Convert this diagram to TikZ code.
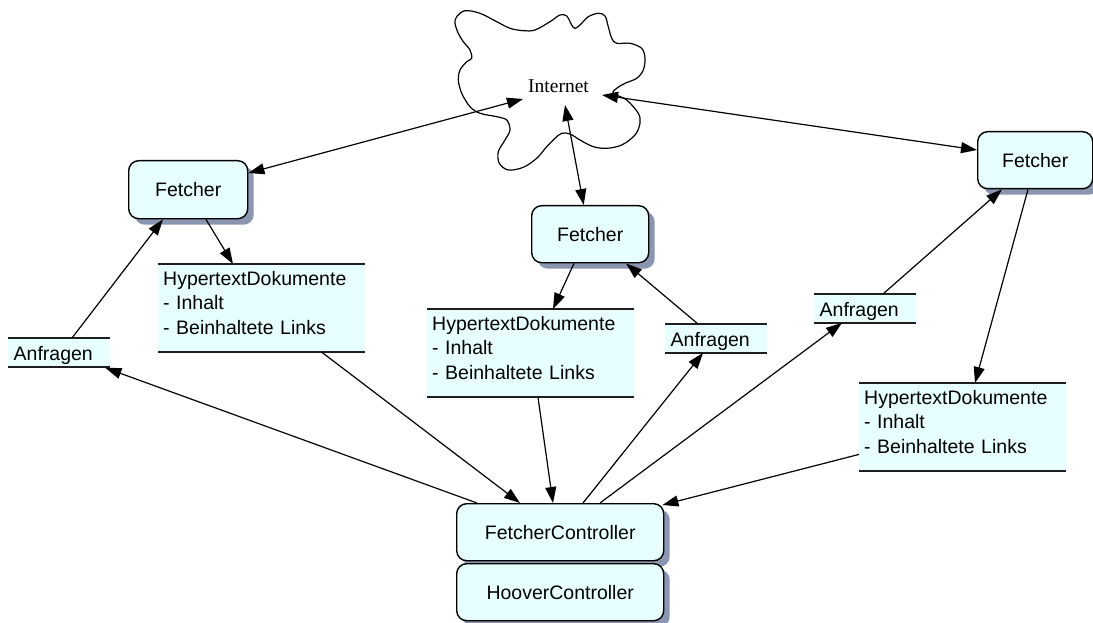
\documentclass[tikz,border=0pt]{standalone}
\usepackage{fontspec}
\setmainfont{Liberation Sans}
\newfontfamily\netfont{Liberation Serif}
\usetikzlibrary{arrows.meta,shadows}
\definecolor{boxfill}{RGB}{232,255,255}
\definecolor{shadowblue}{RGB}{138,150,176}
\definecolor{barline}{RGB}{30,30,30}

\begin{document}
\begin{tikzpicture}[x=1pt,y=-1pt,
  every node/.style={font=\fontsize{19.5}{24.5}\selectfont},
  rbox/.style={draw=black, line width=1.4pt, fill=boxfill, rounded corners=10pt,
    anchor=north west, inner sep=0pt,
    drop shadow={shadow xshift=6pt, shadow yshift=-6pt, fill=shadowblue, opacity=1}},
  docbox/.style={fill=boxfill, anchor=north west, inner xsep=5pt, inner ysep=0pt,
    text width=197pt, align=left, text height=21pt, text depth=67pt},
  reqbox/.style={fill=boxfill, anchor=north west, inner xsep=5.5pt, inner ysep=0pt,
    text width=91pt, align=left, text height=22pt, text depth=6.5pt},
  bar/.style={draw=barline, line width=2pt},
  conn/.style={draw=black, line width=1.2pt, -{Triangle[length=16pt,width=11pt]}},
  biconn/.style={draw=black, line width=1.2pt,
    {Triangle[length=16pt,width=11pt]}-{Triangle[length=16pt,width=11pt]}}]

% page area
\useasboundingbox (0,0) rectangle (1093,623);
\fill[white] (0,0) rectangle (1093,623);

% the Internet cloud
\draw[line width=1.2pt, fill=white] plot[smooth cycle, tension=0.55] coordinates {
  (456.7,16.7) (465,10.7) (480,13.3) (496.7,21.7) (510,28.3) (523.3,30.7) (535,30)
  (550,21.7) (560,15) (566.7,16) (571.7,25) (575,28.3) (580,25) (588.3,16.7)
  (598.3,13.3) (605,16) (608.3,26.7) (611.7,38.3) (616.7,43.3) (630,43.3)
  (641.7,48.3) (645,58.3) (643.3,70) (636.7,78.3) (625,83.3) (616.7,88.3)
  (613.3,93.3) (626.7,100) (638.3,113.3) (640,123.3) (635,135) (621.7,145)
  (606.7,148.3) (593.3,146.7) (580,140) (570,134) (561.7,133.3) (555,138.3)
  (546.7,146.7) (536.7,158.3) (523.3,167.3) (508.3,170) (499.3,163.3)
  (498.3,151.7) (505,140) (510,130) (506.7,120) (496.7,116.7) (480,113.3)
  (470,106.7) (461.7,93.3) (458.3,80) (460,70) (466.7,61.7) (471.7,58.3)
  (470,50) (463.3,41.7) (458.3,33.3) (455,23.3)};
\node[inner sep=0pt, anchor=base, font=\netfont\fontsize{19.5}{24.5}\selectfont] (net) at (558.5,93) {Internet};

% fetchers and controllers
\node[rbox, minimum width=119pt, minimum height=58pt] (fL) at (128,160) {Fetcher};
\node[rbox, minimum width=117pt, minimum height=57pt] (fM) at (531,205) {Fetcher};
\node[rbox, minimum width=115pt, minimum height=57pt] (fR) at (977,131) {Fetcher};
\node[rbox, minimum width=207pt, minimum height=57pt] (fc) at (456,503) {FetcherController};
\node[rbox, minimum width=207pt, minimum height=57pt] (hc) at (456,563) {HooverController};

% hypertext documents
\node[docbox] (hdL) at (158,264) {HypertextDokumente\\- Inhalt\\- Beinhaltete Links};
\node[docbox] (hdM) at (427,309) {HypertextDokumente\\- Inhalt\\- Beinhaltete Links};
\node[docbox] (hdR) at (859,383) {HypertextDokumente\\- Inhalt\\- Beinhaltete Links};

% requests
\node[reqbox] (aL) at (8,338) {Anfragen};
\node[reqbox] (aM) at (665,324) {Anfragen};
\node[reqbox] (aR) at (814,294) {Anfragen};

% top and bottom rules of the class boxes
\foreach \b in {hdL,hdM,hdR,aL,aM,aR}
  \draw[bar] (\b.north west) -- (\b.north east) (\b.south west) -- (\b.south east);

% Internet <-> fetchers
\draw[biconn] ([shift={(-5,6)}]net.base west) -- ([shift={(0,13)}]fL.north east);
\draw[biconn] ([shift={(6.5,12)}]net.base) -- ([shift={(-6.5,0)}]fM.north);
\draw[biconn] ([shift={(13,2)}]net.base east) -- ([shift={(0,19)}]fR.north west);

% fetchers -> documents
\draw[conn] ([shift={(78,0)}]fL.south west) -- ([shift={(75,0)}]hdL.north west);
\draw[conn] ([shift={(43,0)}]fM.south west) -- ([shift={(126,0)}]hdM.north west);
\draw[conn] ([shift={(51,0)}]fR.south west) -- ([shift={(116,0)}]hdR.north west);

% requests -> fetchers
\draw[conn] ([shift={(64,0)}]aL.north west) -- ([shift={(35,0)}]fL.south west);
\draw[conn] ([shift={(33,0)}]aM.north west) -- ([shift={(95,0)}]fM.south west);
\draw[conn] ([shift={(69,0)}]aR.north west) -- ([shift={(25,0)}]fR.south west);

% controller -> requests
\draw[conn] ([shift={(21,0)}]fc.north west) -- ([shift={(-5,1)}]aL.south east);
\draw[conn] ([shift={(127,0)}]fc.north west) -- ([shift={(38,0)}]aM.south west);
\draw[conn] ([shift={(144,0)}]fc.north west) -- ([shift={(28,0)}]aR.south west);

% documents -> controller
\draw[conn] ([shift={(164,0)}]hdL.south west) -- ([shift={(64,0)}]fc.north west);
\draw[conn] ([shift={(111,0)}]hdM.south west) -- ([shift={(97,0)}]fc.north west);
\draw[conn] ([shift={(0,-17)}]hdR.south west) -- ([shift={(-2,2)}]fc.north east);
\end{tikzpicture}
\end{document}
